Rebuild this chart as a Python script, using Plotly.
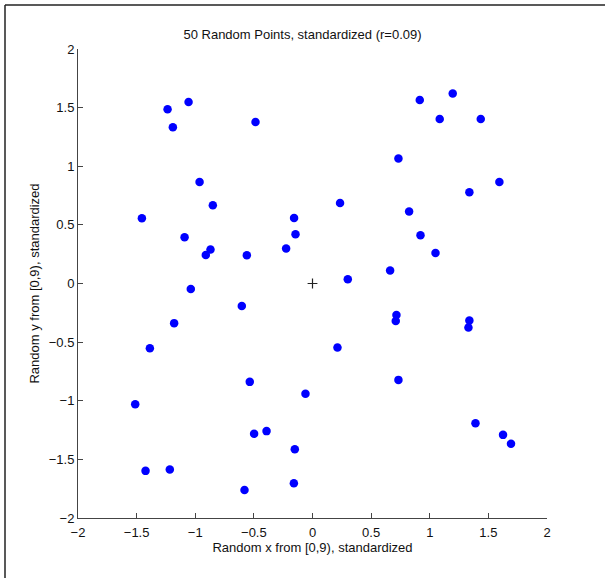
import plotly.graph_objects as go

x_vals = [-1.236, -1.057, -1.191, -0.486, -0.963, -0.850, -1.455, -1.091, -0.157, -0.145,
          0.235, -0.870, -0.910, -0.560, -0.225,
          0.915, 1.196, 1.085, 1.435, 0.733, 1.594, 1.338, 0.824, 0.921, 1.049, 0.662, 0.301,
          -1.038, -0.603, -1.180, -1.387, 0.213, -0.535, -0.060, -1.512, -0.498, -0.392,
          -0.151, -1.424, -1.217, -0.580, -0.159,
          0.716, 0.710, 1.338, 1.330, 0.733, 1.390, 1.625, 1.693]
y_vals = [1.486, 1.548, 1.332, 1.378, 0.866, 0.667, 0.557, 0.395, 0.559, 0.420,
          0.687, 0.290, 0.244, 0.241, 0.298,
          1.565, 1.620, 1.403, 1.403, 1.066, 0.866, 0.778, 0.614, 0.412, 0.261, 0.111, 0.037,
          -0.046, -0.191, -0.338, -0.552, -0.546, -0.839, -0.941, -1.029, -1.282, -1.259,
          -1.413, -1.598, -1.586, -1.762, -1.703,
          -0.268, -0.319, -0.316, -0.375, -0.822, -1.191, -1.291, -1.367]
center_x = [0]
center_y = [0]
tick_vals = [-2, -1.5, -1, -0.5, 0, 0.5, 1, 1.5, 2]
tick_text = ["−2", "−1.5", "−1", "−0.5", "0", "0.5", "1", "1.5", "2"]

title_text = "50 Random Points, standardized (r=0.09)"
x_title = "Random x from [0,9), standardized"
y_title = "Random y from [0,9), standardized"

FONT = "Liberation Sans, Arial, Helvetica, sans-serif"
FS = 13

fig = go.Figure()
fig.add_trace(go.Scatter(x=x_vals, y=y_vals, mode="markers",
                         marker=dict(color="#0000ff", size=8.5, line=dict(width=0)),
                         showlegend=False, cliponaxis=False))
fig.add_trace(go.Scatter(x=center_x, y=center_y, mode="markers",
                         marker=dict(symbol="cross-thin", size=7, color="#222",
                                     line=dict(color="#222", width=1.2)),
                         showlegend=False))

axis_common = dict(
    tickmode="array", tickvals=tick_vals, ticktext=tick_text,
    range=[-2, 2], showgrid=False, zeroline=False,
    showline=True, linecolor="#444", linewidth=1,
    ticks="inside", ticklen=5, tickcolor="#444", tickwidth=1,
    tickfont=dict(family=FONT, size=FS, color="#111"),
    mirror=False, fixedrange=True,
)

fig.update_layout(
    width=605, height=578,
    margin=dict(l=78, r=58, t=49, b=60),
    paper_bgcolor="white", plot_bgcolor="white",
    title=dict(text=title_text, x=0.5, xanchor="center", y=1 - 34 / 578, yanchor="middle",
               font=dict(family=FONT, size=FS, color="#111")),
    xaxis=dict(**axis_common, ticklabelstandoff=2,
               title=dict(text=x_title, font=dict(family=FONT, size=FS, color="#111"), standoff=3)),
    yaxis=dict(**axis_common,
               title=dict(text=y_title, font=dict(family=FONT, size=FS, color="#111"), standoff=6)),
    shapes=[
        dict(type="line", xref="paper", yref="paper",
             x0=-73 / 469, x1=1 + 80 / 469, y0=1 + 44 / 469, y1=1 + 44 / 469,
             line=dict(color="#222", width=1.5)),
        dict(type="line", xref="paper", yref="paper",
             x0=-73 / 469, x1=-73 / 469, y0=1 + 44 / 469, y1=-80 / 469,
             line=dict(color="#222", width=1.5)),
    ],
)

fig.write_html("out.html", config={"displayModeBar": False},
               post_script="document.body.style.margin='0';document.body.style.overflow='hidden';")
